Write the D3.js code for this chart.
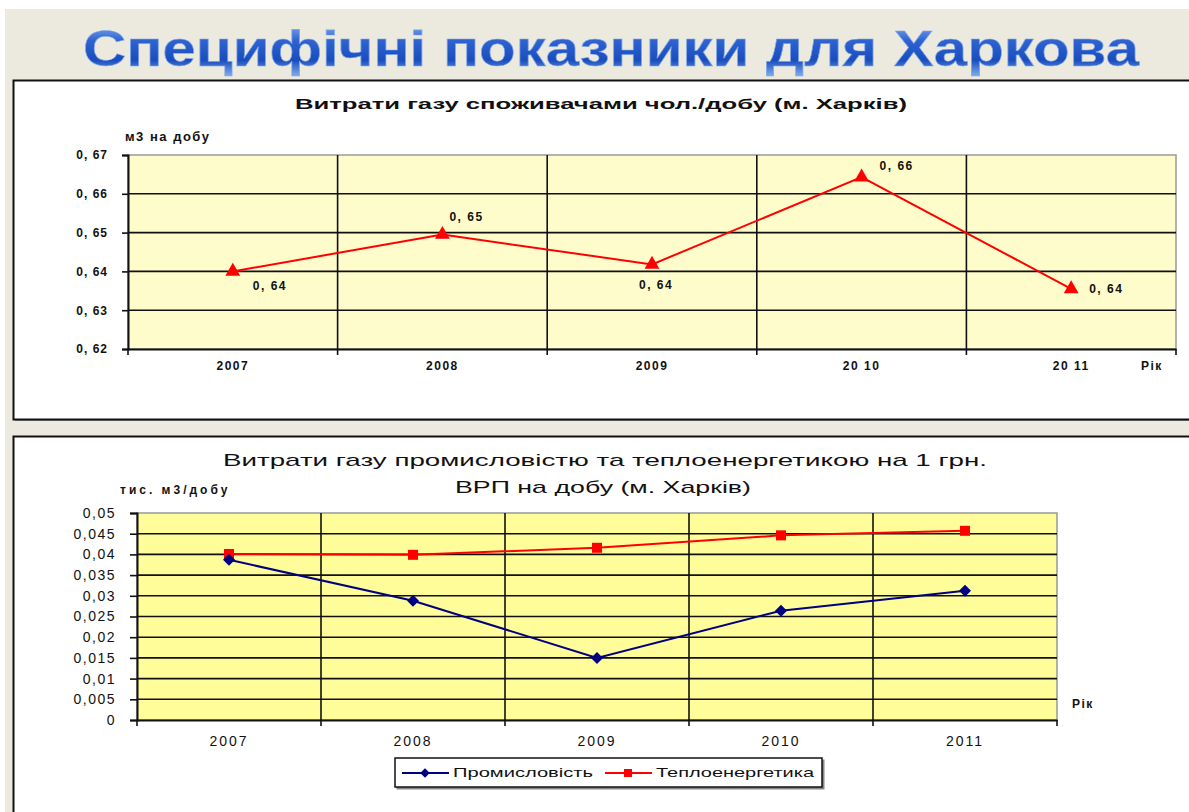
<!DOCTYPE html>
<html>
<head>
<meta charset="utf-8">
<script src="https://cdn.jsdelivr.net/npm/d3@7"></script>
<style>
  html, body { margin: 0; padding: 0; background: #ffffff; }
  svg { display: block; }
</style>
</head>
<body>
<svg id="chart" width="1189" height="812"></svg>
<script>
// ---- data ----
const years = ["2007", "2008", "2009", "2010", "2011"];
const yearLabelsTop = ["2007", "2008", "2009", "20 10", "20 11"];

// household consumption, m3 per person per day
const householdGas = [0.640, 0.6495, 0.6418, 0.6643, 0.6355];
const topTicks = [0.62, 0.63, 0.64, 0.65, 0.66, 0.67];

// industry / heat-power consumption per 1 UAH of GRP per day
const industryGas = [0.0387, 0.0288, 0.0150, 0.0264, 0.0312];
const heatPowerGas = [0.0401, 0.0399, 0.0416, 0.0446, 0.0457];
const bottomTicks = [0, 0.005, 0.01, 0.015, 0.02, 0.025, 0.03, 0.035, 0.04, 0.045, 0.05];

const seriesNames = ["Промисловість", "Теплоенергетика"];

const pageTitle = "Специфічні показники для Харкова";
const topTitle = "Витрати газу споживачами чол./добу (м. Харків)";
const topUnit = "м3 на  добу";
const bottomTitle1 = "Витрати газу промисловістю та теплоенергетикою на 1 грн.";
const bottomTitle2 = "ВРП на добу (м. Харків)";
const bottomUnit = "тис. м3/добу";
const axisYear = "Рік";

// value-label placement around the markers of the upper chart
const labelOffsets = [[20, 15], [7, -17], [-13, 21], [18, -10], [18, 1]];

// ---- setup ----
const locale = d3.formatLocale({ decimal: ",", thousands: " ", grouping: [3], currency: ["", ""] });
const fmt2 = locale.format(".2f");
const fmtTrim = locale.format("~f");

const svg = d3.select("#chart");
const defs = svg.append("defs");

// page background
svg.append("rect").attr("x", 5).attr("y", 9).attr("width", 1184).attr("height", 803).attr("fill", "#ECE9DF");

// title with blue gradient
const grad = defs.append("linearGradient").attr("id", "titleGrad")
  .attr("x1", 0).attr("y1", 0).attr("x2", 0).attr("y2", 1);
grad.append("stop").attr("offset", "0%").attr("stop-color", "#8DB6F2");
grad.append("stop").attr("offset", "35%").attr("stop-color", "#2E63D0");
grad.append("stop").attr("offset", "70%").attr("stop-color", "#1A4CBE");
grad.append("stop").attr("offset", "100%").attr("stop-color", "#86B2F0");

svg.append("text")
  .attr("x", 83).attr("y", 66)
  .attr("textLength", 1056).attr("lengthAdjust", "spacingAndGlyphs")
  .attr("font-family", "'Liberation Sans Narrow', 'Arial Narrow', 'Liberation Sans', Arial, sans-serif")
  .attr("font-weight", "bold").attr("font-size", 50)
  .attr("fill", "url(#titleGrad)")
  .attr("stroke", "#7FA8EA").attr("stroke-width", 0.6)
  .text(pageTitle);

// panels
function panel(y, h) {
  svg.append("rect").attr("x", 15).attr("y", y + 2).attr("width", 1200).attr("height", h)
    .attr("fill", "#9a9a9a");
  svg.append("rect").attr("x", 13.5).attr("y", y + 0.5).attr("width", 1200).attr("height", h)
    .attr("fill", "#ffffff").attr("stroke", "#111").attr("stroke-width", 2);
}
panel(80, 339);
panel(436, 400);

const font = "'Liberation Sans', Arial, sans-serif";

// ---- upper chart ----
{
  const x = d3.scaleBand().domain(years).range([128, 1176]);
  const y = d3.scaleLinear().domain([0.62, 0.67]).range([349, 155]);
  const g = svg.append("g");

  g.append("rect").attr("x", x.range()[0]).attr("y", y(0.67))
    .attr("width", x.range()[1] - x.range()[0]).attr("height", y(0.62) - y(0.67))
    .attr("fill", "#FEFCCB").attr("stroke", "#9a9a9a").attr("stroke-width", 1.5);

  // horizontal grid
  g.selectAll(".hg").data(topTicks.slice(1, -1)).join("line")
    .attr("x1", x.range()[0]).attr("x2", x.range()[1])
    .attr("y1", d => y(d)).attr("y2", d => y(d))
    .attr("stroke", "#111").attr("stroke-width", 1.6);
  // vertical grid at category boundaries
  g.selectAll(".vg").data(years.slice(1)).join("line")
    .attr("x1", d => x(d)).attr("x2", d => x(d))
    .attr("y1", y(0.67)).attr("y2", y(0.62) + 6)
    .attr("stroke", "#111").attr("stroke-width", 1.6);

  // axes
  const yAxis = d3.axisLeft(y).tickValues(topTicks).tickFormat(fmt2).tickSize(6).tickPadding(14);
  const ya = g.append("g").attr("transform", `translate(${x.range()[0]},0)`).call(yAxis);
  ya.select(".domain").attr("stroke", "#111").attr("stroke-width", 2);
  ya.selectAll(".tick line").attr("stroke", "#111").attr("stroke-width", 1.6);
  ya.selectAll(".tick text").attr("font-family", font).attr("font-weight", "bold")
    .attr("font-size", 12).attr("letter-spacing", 1).attr("fill", "#111")
    .text(d => fmt2(d).replace(",", ", "));

  const xa = g.append("g").attr("transform", `translate(0,${y(0.62)})`)
    .call(d3.axisBottom(x).tickSize(0).tickPadding(12).tickFormat((d, i) => yearLabelsTop[i]));
  xa.select(".domain").attr("stroke", "#111").attr("stroke-width", 2);
  xa.selectAll(".tick text").attr("font-family", font).attr("font-weight", "bold")
    .attr("font-size", 12).attr("letter-spacing", 1.5).attr("fill", "#111");
  g.append("line").attr("x1", x.range()[1]).attr("x2", x.range()[1])
    .attr("y1", y(0.62)).attr("y2", y(0.62) + 6).attr("stroke", "#111").attr("stroke-width", 1.6);
  g.append("line").attr("x1", x.range()[0]).attr("x2", x.range()[0])
    .attr("y1", y(0.62)).attr("y2", y(0.62) + 6).attr("stroke", "#111").attr("stroke-width", 1.6);

  // line + markers
  const cx = d => x(d) + x.bandwidth() / 2;
  g.append("path").datum(householdGas)
    .attr("d", d3.line().x((d, i) => cx(years[i])).y(d => y(d)))
    .attr("fill", "none").attr("stroke", "#FF0000").attr("stroke-width", 2);
  g.selectAll(".tri").data(householdGas).join("path")
    .attr("d", d3.symbol(d3.symbolTriangle, 95)())
    .attr("transform", (d, i) => `translate(${cx(years[i])},${y(d)})`)
    .attr("fill", "#FF0000");
  g.selectAll(".vl").data(householdGas).join("text")
    .attr("x", (d, i) => cx(years[i]) + labelOffsets[i][0])
    .attr("y", (d, i) => y(d) + labelOffsets[i][1])
    .attr("dominant-baseline", "middle")
    .attr("font-family", font).attr("font-weight", "bold").attr("font-size", 12)
    .attr("letter-spacing", 1.5).attr("fill", "#111")
    .text(d => fmt2(d).replace(",", ", "));

  // titles
  g.append("text").attr("x", 601).attr("y", 109).attr("text-anchor", "middle")
    .attr("textLength", 612).attr("lengthAdjust", "spacingAndGlyphs")
    .attr("font-family", font).attr("font-weight", "bold").attr("font-size", 15).attr("fill", "#111")
    .text(topTitle);
  g.append("text").attr("x", 125).attr("y", 141)
    .attr("font-family", font).attr("font-weight", "bold").attr("font-size", 13)
    .attr("letter-spacing", 1.5).attr("fill", "#111").text(topUnit);
  g.append("text").attr("x", 1141).attr("y", 370)
    .attr("font-family", font).attr("font-weight", "bold").attr("font-size", 12)
    .attr("letter-spacing", 1.5).attr("fill", "#111").text(axisYear);
}

// ---- lower chart ----
{
  const x = d3.scaleBand().domain(years).range([137, 1057]);
  const y = d3.scaleLinear().domain([0, 0.05]).range([720, 513]);
  const g = svg.append("g");

  g.append("rect").attr("x", x.range()[0]).attr("y", y(0.05))
    .attr("width", x.range()[1] - x.range()[0]).attr("height", y(0) - y(0.05))
    .attr("fill", "#FFFD99").attr("stroke", "#999").attr("stroke-width", 1.5);

  g.selectAll(".hg").data(bottomTicks.slice(1, -1)).join("line")
    .attr("x1", x.range()[0]).attr("x2", x.range()[1])
    .attr("y1", d => y(d)).attr("y2", d => y(d))
    .attr("stroke", "#111").attr("stroke-width", 1.6);
  g.selectAll(".vg").data(years.slice(1)).join("line")
    .attr("x1", d => x(d)).attr("x2", d => x(d))
    .attr("y1", y(0.05)).attr("y2", y(0) + 6)
    .attr("stroke", "#111").attr("stroke-width", 1.6);

  const ya = g.append("g").attr("transform", `translate(${x.range()[0]},0)`)
    .call(d3.axisLeft(y).tickValues(bottomTicks).tickFormat(fmtTrim).tickSize(7).tickPadding(14));
  ya.select(".domain").attr("stroke", "#111").attr("stroke-width", 2);
  ya.selectAll(".tick line").attr("stroke", "#111").attr("stroke-width", 1.6);
  ya.selectAll(".tick text").attr("font-family", font).attr("font-size", 14)
    .attr("letter-spacing", 1.5).attr("fill", "#111");

  const xa = g.append("g").attr("transform", `translate(0,${y(0)})`)
    .call(d3.axisBottom(x).tickSize(0).tickPadding(16));
  xa.select(".domain").attr("stroke", "#111").attr("stroke-width", 2);
  xa.selectAll(".tick text").attr("font-family", font).attr("font-size", 14)
    .attr("letter-spacing", 2).attr("fill", "#111");
  [x.range()[0], x.range()[1]].forEach(v =>
    g.append("line").attr("x1", v).attr("x2", v).attr("y1", y(0)).attr("y2", y(0) + 6)
      .attr("stroke", "#111").attr("stroke-width", 1.6));

  const cx = d => x(d) + x.bandwidth() / 2;
  const line = d3.line().x((d, i) => cx(years[i])).y(d => y(d));

  // heat-power series (red squares)
  g.append("path").datum(heatPowerGas).attr("d", line)
    .attr("fill", "none").attr("stroke", "#FF0000").attr("stroke-width", 2);
  g.selectAll(".sq").data(heatPowerGas).join("rect")
    .attr("x", (d, i) => cx(years[i]) - 5).attr("y", d => y(d) - 5)
    .attr("width", 10).attr("height", 10).attr("fill", "#FF0000");

  // industry series (navy diamonds = squares turned 45°)
  g.append("path").datum(industryGas).attr("d", line)
    .attr("fill", "none").attr("stroke", "#000080").attr("stroke-width", 2);
  g.selectAll(".dm").data(industryGas).join("path")
    .attr("d", d3.symbol(d3.symbolSquare, 72)())
    .attr("transform", (d, i) => `translate(${cx(years[i])},${y(d)}) rotate(45)`)
    .attr("fill", "#000080");

  // titles
  g.append("text").attr("x", 605).attr("y", 466).attr("text-anchor", "middle")
    .attr("textLength", 764).attr("lengthAdjust", "spacingAndGlyphs")
    .attr("font-family", font).attr("font-size", 17).attr("fill", "#111").text(bottomTitle1);
  g.append("text").attr("x", 603).attr("y", 493).attr("text-anchor", "middle")
    .attr("textLength", 296).attr("lengthAdjust", "spacingAndGlyphs")
    .attr("font-family", font).attr("font-size", 17).attr("fill", "#111").text(bottomTitle2);
  g.append("text").attr("x", 120).attr("y", 494)
    .attr("font-family", font).attr("font-weight", "bold").attr("font-size", 12)
    .attr("letter-spacing", 3).attr("fill", "#111").text(bottomUnit);
  g.append("text").attr("x", 1072).attr("y", 708)
    .attr("font-family", font).attr("font-weight", "bold").attr("font-size", 12)
    .attr("letter-spacing", 1.5).attr("fill", "#111").text(axisYear);

  // legend
  const lg = g.append("g").attr("transform", "translate(395,758)");
  lg.append("rect").attr("x", 1.5).attr("y", 1.5).attr("width", 428).attr("height", 30)
    .attr("fill", "#888");
  lg.append("rect").attr("x", 0).attr("y", 0).attr("width", 427).attr("height", 29)
    .attr("fill", "#fff").attr("stroke", "#111").attr("stroke-width", 1.5);
  const items = [
    { name: seriesNames[0], color: "#000080", shape: "diamond", x: 7, tw: 140 },
    { name: seriesNames[1], color: "#FF0000", shape: "square", x: 210, tw: 158 }
  ];
  items.forEach(it => {
    lg.append("line").attr("x1", it.x).attr("x2", it.x + 47).attr("y1", 15).attr("y2", 15)
      .attr("stroke", it.color).attr("stroke-width", 2);
    if (it.shape === "diamond") {
      lg.append("path").attr("d", d3.symbol(d3.symbolSquare, 45)())
        .attr("transform", `translate(${it.x + 23},15) rotate(45)`).attr("fill", it.color);
    } else {
      lg.append("rect").attr("x", it.x + 19).attr("y", 11).attr("width", 8).attr("height", 8)
        .attr("fill", it.color);
    }
    lg.append("text").attr("x", it.x + 51).attr("y", 19)
      .attr("textLength", it.tw).attr("lengthAdjust", "spacingAndGlyphs")
      .attr("font-family", font).attr("font-size", 13).attr("fill", "#111").text(it.name);
  });
}
</script>
</body>
</html>
